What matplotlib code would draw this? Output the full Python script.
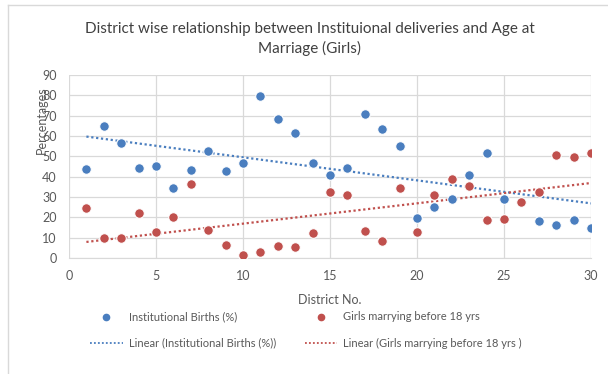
import numpy as np
import matplotlib.pyplot as plt
from matplotlib.lines import Line2D

districts = list(range(1, 31))
institutional_births = [43.8, 64.8, 56.7, 44.4, 45.1, 34.3, 43.1, 52.5, 42.8, 46.7,
                        79.7, 68.2, 61.5, 46.9, 40.7, 44.1, 70.8, 63.4, 55.2, 19.7,
                        25.1, 28.9, 40.7, 51.5, 28.9, np.nan, 18.4, 16.1, 18.7, 14.6]
girls_marrying_before_18 = [24.6, 9.8, 9.8, 22.1, 13.0, 20.0, 36.2, 13.9, 6.2, 1.5,
                            3.1, 5.9, 5.4, 12.3, 32.6, 31.0, 13.4, 8.5, 34.3, 12.8,
                            31.0, 39.0, 35.2, 18.7, 19.3, 27.4, 32.6, 50.8, 49.8, 51.5]

title = "District wise relationship between Instituional deliveries and Age at\nMarriage (Girls)"
blue = "#4a7ebf"
red = "#c0504d"
text_grey = "#595959"

plt.rcParams['font.family'] = ['Lato', 'DejaVu Sans']

W, H = 608, 374
fig = plt.figure(figsize=(W / 100, H / 100), dpi=100)
ax = fig.add_axes([69 / W, 1 - 258 / H, (591 - 69) / W, (258 - 75) / H])

x = np.array(districts, dtype=float)
series = [(np.array(institutional_births), blue), (np.array(girls_marrying_before_18), red)]

for y, c in series:
    ax.scatter(x, y, s=48, color=c, edgecolors='white', linewidths=0.8, zorder=3)

# least-squares trend lines over the districts with data
for y, c in series:
    ok = ~np.isnan(y)
    k, b = np.polyfit(x[ok], y[ok], 1)
    xs = np.array([1, 30])
    ax.plot(xs, k * xs + b, color=c, linestyle=(0, (1, 1.2)), linewidth=1.6, zorder=2)

ax.set_xlim(0, 30)
ax.set_ylim(0, 90)
ax.set_xticks(range(0, 31, 5))
ax.set_yticks(range(0, 91, 10))
ax.grid(True, color='#d9d9d9', linewidth=0.9)
ax.set_axisbelow(True)
for s in ax.spines.values():
    s.set_visible(False)
ax.spines['bottom'].set_visible(True)
ax.spines['bottom'].set_color('#d9d9d9')
ax.tick_params(length=0, labelsize=9, colors=text_grey, pad=9)

ax.set_xlabel("District No.", fontsize=9, color=text_grey, labelpad=8)
fig.text(42 / W, 1 - 120 / H, "Percentages", rotation=90, fontsize=9,
         color=text_grey, ha='center', va='center')

fig.text(310 / W, 1 - 39 / H, title, ha='center', va='center', fontsize=11,
         color='#404040', linespacing=1.35)

# legend laid out in two columns
fig.legend(handles=[
    Line2D([], [], marker='o', linestyle='none', color=blue, markersize=4.5),
    Line2D([], [], color=blue, linestyle=(0, (1, 1.2)), linewidth=1.3),
    Line2D([], [], marker='o', linestyle='none', color=red, markersize=4.5),
    Line2D([], [], color=red, linestyle=(0, (1, 1.2)), linewidth=1.3),
], labels=["Institutional Births (%)", "Linear (Institutional Births (%))",
           "Girls marrying before 18 yrs", "Linear (Girls marrying before 18 yrs )"],
    ncol=2, loc='center', bbox_to_anchor=(306 / W, 1 - 330 / H), frameon=False,
    fontsize=8, labelcolor=text_grey, columnspacing=2.6, handlelength=2.9,
    handletextpad=0.55, labelspacing=1.35)

# thin chart-area border along the top and left edge
fig.add_artist(Line2D([8 / W, 8 / W], [0, 1 - 5 / H], transform=fig.transFigure,
                      color='#d9d9d9', linewidth=1))
fig.add_artist(Line2D([8 / W, 1], [1 - 5 / H, 1 - 5 / H], transform=fig.transFigure,
                      color='#d9d9d9', linewidth=1))

fig.savefig("out.png", dpi=100)
